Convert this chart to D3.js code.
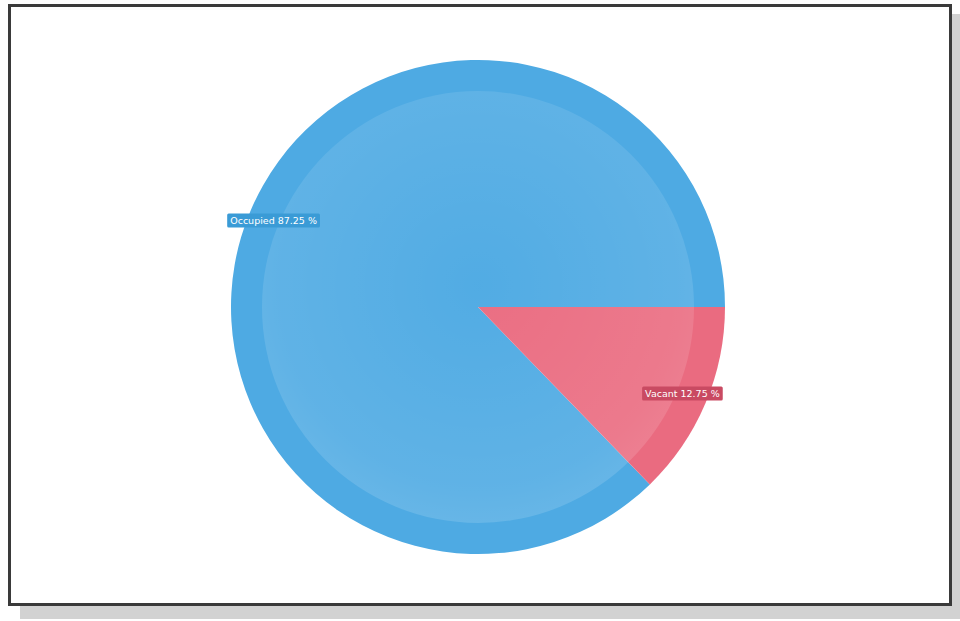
<!DOCTYPE html>
<html>
<head>
<meta charset="utf-8">
<script src="https://cdn.jsdelivr.net/npm/d3@7"></script>
<style>
  html, body { margin: 0; padding: 0; background: #fff; }
  svg { display: block; }
</style>
</head>
<body>
<svg id="chart" width="960" height="621"></svg>
<script>
// Occupancy split
const categories = ["Occupied", "Vacant"];
const percents = [87.25, 12.75];
const colors = ["#4eaae3", "#ea6b80"];
const labelColors = ["#3a9bd6", "#c94a62"];

const svg = d3.select("#chart");

// Card shadow and frame
svg.append("rect").attr("x", 20).attr("y", 14).attr("width", 940).attr("height", 605)
  .attr("fill", "#d2d2d2");
svg.append("rect").attr("x", 9.5).attr("y", 5.5).attr("width", 941).attr("height", 599)
  .attr("fill", "#fff").attr("stroke", "#3a3a3a").attr("stroke-width", 3);

const cx = 478, cy = 307, R = 247, Rin = 216, Rlab = 222;

const defs = svg.append("defs");
const grad = defs.append("radialGradient").attr("id", "shine")
  .attr("cx", "50%").attr("cy", "45%").attr("r", "55%");
grad.append("stop").attr("offset", "0%").attr("stop-color", "#fff").attr("stop-opacity", 0.02);
grad.append("stop").attr("offset", "85%").attr("stop-color", "#fff").attr("stop-opacity", 0.1);
grad.append("stop").attr("offset", "100%").attr("stop-color", "#fff").attr("stop-opacity", 0.14);

const g = svg.append("g").attr("transform", `translate(${cx},${cy})`);

const pie = d3.pie().sort(null)
  .startAngle(Math.PI / 2 + 2 * Math.PI)
  .endAngle(Math.PI / 2)
  .value(d => d);
const arcs = pie(percents);

const arc = d3.arc().innerRadius(0).outerRadius(R);
g.selectAll("path.slice").data(arcs).join("path")
  .attr("class", "slice")
  .attr("d", arc)
  .attr("fill", (d, i) => colors[i]);

// lighter inner disc
g.append("circle").attr("r", Rin).attr("fill", "url(#shine)");

// labels
const labelArc = d3.arc().innerRadius(Rlab).outerRadius(Rlab);
arcs.forEach((d, i) => {
  const [lx, ly] = labelArc.centroid(d);
  const lg = g.append("g").attr("transform", `translate(${lx},${ly})`);
  const t = lg.append("text")
    .attr("text-anchor", "middle").attr("dy", "0.35em")
    .attr("font-family", "DejaVu Sans, sans-serif").attr("font-size", 9.5)
    .attr("fill", "#fff")
    .text(`${categories[i]} ${percents[i].toFixed(2)} %`);
  const bb = t.node().getBBox();
  lg.insert("rect", "text")
    .attr("x", bb.x - 3).attr("y", -7).attr("width", bb.width + 6).attr("height", 14)
    .attr("rx", 1.5).attr("fill", labelColors[i]);
});
</script>
</body>
</html>
